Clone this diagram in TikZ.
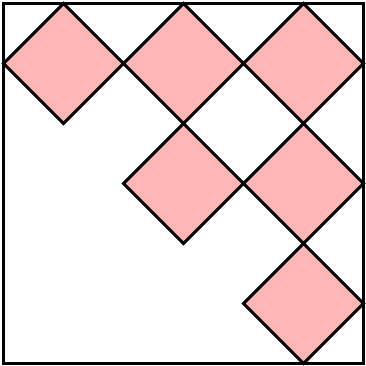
\documentclass[tikz,border=0pt]{standalone}
\definecolor{pinkfill}{HTML}{FFB6B6}
\begin{document}
\begin{tikzpicture}[x=1pt,y=-1pt,
  tile/.style={fill=pinkfill,draw=black,line width=3pt,line join=miter},
  frame/.style={draw=black,line width=3pt}]
\useasboundingbox (0,0) rectangle (366,365);
\foreach \cx/\cy [count=\i] in {63.5/63.5,183.5/63.5,303.5/63.5,183.5/183.5,303.5/183.5,303.5/303.5}{
  \coordinate (c\i) at (\cx,\cy);
  \draw[tile] (c\i) +(-60,0) -- +(0,-60) -- +(60,0) -- +(0,60) -- cycle;
}
\draw[frame] (3.5,3.5) rectangle (363.5,363.5);
\end{tikzpicture}
\end{document}
